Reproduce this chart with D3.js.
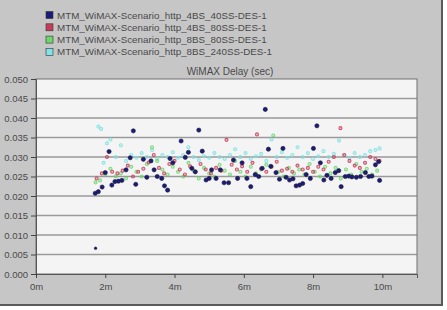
<!DOCTYPE html>
<html>
<head>
<meta charset="utf-8">
<script src="https://cdn.jsdelivr.net/npm/d3@7"></script>
<style>
body{margin:0;background:#fff;}
text{font-family:"Liberation Sans",Arial,sans-serif;}
</style>
</head>
<body>
<script>
var seriesNames = ['MTM_WiMAX-Scenario_http_4BS_40SS-DES-1','MTM_WiMAX-Scenario_http_4BS_80SS-DES-1','MTM_WiMAX-Scenario_http_8BS_80SS-DES-1','MTM_WiMAX-Scenario_http_8BS_240SS-DES-1'];
var seriesColors = ['#1c1c78','#c83c5a','#6cd86c','#7ee4e4'];
var yTicks = [0,0.005,0.010,0.015,0.020,0.025,0.030,0.035,0.040,0.045,0.050];
var xTicks = [0,2,4,6,8,10];

// [minutes, delay sec]
var s4bs40 = [[1.72,0.0066],[1.71,0.0207],[1.80,0.0211],[1.91,0.0223],[2.0,0.0260],[2.11,0.0314],[2.19,0.0228],[2.28,0.0237],[2.38,0.0238],[2.48,0.0240],[2.6,0.0267],[2.72,0.0298],[2.81,0.0367],[2.88,0.0230],[3.1,0.0294],[3.2,0.0248],[3.32,0.0290],[3.41,0.0267],[3.5,0.0250],[3.63,0.0245],[3.71,0.0226],[3.8,0.0215],[3.87,0.0296],[3.95,0.0285],[4.19,0.0341],[4.31,0.0299],[4.4,0.0312],[4.5,0.0271],[4.6,0.0262],[4.7,0.0369],[4.8,0.0315],[4.91,0.0241],[5.0,0.0245],[5.07,0.0267],[5.2,0.0245],[5.32,0.0267],[5.43,0.0234],[5.56,0.0234],[5.7,0.0292],[5.82,0.0245],[5.95,0.0285],[6.09,0.0245],[6.2,0.0224],[6.33,0.0255],[6.43,0.0250],[6.53,0.0271],[6.62,0.0422],[6.71,0.0320],[6.78,0.0276],[6.93,0.0260],[7.03,0.0243],[7.13,0.0322],[7.22,0.0248],[7.32,0.0241],[7.42,0.0244],[7.51,0.0226],[7.61,0.0228],[7.7,0.0232],[7.8,0.0255],[7.92,0.0245],[8.01,0.0322],[8.11,0.0380],[8.21,0.0285],[8.31,0.0241],[8.4,0.0253],[8.52,0.0245],[8.64,0.0260],[8.74,0.0265],[8.81,0.0224],[8.93,0.0250],[9.03,0.0251],[9.12,0.0249],[9.25,0.0248],[9.37,0.0250],[9.51,0.0260],[9.61,0.0250],[9.7,0.0251],[9.8,0.0280],[9.89,0.0288],[9.92,0.0240]];
var s4bs80 = [[1.75,0.0245],[1.9,0.0258],[2.05,0.0300],[2.2,0.0262],[2.35,0.0258],[2.5,0.0265],[2.65,0.0278],[2.8,0.0250],[2.95,0.0262],[3.1,0.0270],[3.25,0.0286],[3.4,0.0305],[3.55,0.0272],[3.7,0.0258],[3.85,0.0282],[4.0,0.0290],[4.15,0.0268],[4.3,0.0255],[4.45,0.0276],[4.6,0.0262],[4.75,0.0282],[4.9,0.0268],[5.05,0.0258],[5.2,0.0272],[5.35,0.0265],[5.5,0.0344],[5.65,0.0280],[5.8,0.0268],[5.95,0.0276],[6.1,0.0262],[6.25,0.0285],[6.38,0.0358],[6.5,0.0270],[6.65,0.0262],[6.8,0.0275],[6.95,0.0288],[7.1,0.0265],[7.25,0.0270],[7.4,0.0262],[7.55,0.0278],[7.7,0.0268],[7.85,0.0272],[8.0,0.0262],[8.15,0.0275],[8.3,0.0268],[8.45,0.0288],[8.6,0.0300],[8.79,0.0374],[8.9,0.0305],[9.05,0.0290],[9.2,0.0278],[9.35,0.0272],[9.5,0.0285],[9.65,0.0300],[9.8,0.0295],[9.92,0.0290]];
var s8bs80 = [[1.72,0.0235],[1.85,0.0240],[2.0,0.0255],[2.15,0.0270],[2.3,0.0250],[2.45,0.0258],[2.6,0.0245],[2.75,0.0275],[2.9,0.0262],[3.05,0.0250],[3.2,0.0282],[3.35,0.0325],[3.5,0.0290],[3.65,0.0268],[3.8,0.0255],[3.95,0.0275],[4.1,0.0262],[4.25,0.0250],[4.4,0.0285],[4.55,0.0265],[4.7,0.0245],[4.85,0.0272],[5.0,0.0258],[5.15,0.0250],[5.3,0.0280],[5.45,0.0265],[5.6,0.0255],[5.75,0.0290],[5.9,0.0262],[6.05,0.0250],[6.2,0.0275],[6.35,0.0258],[6.5,0.0268],[6.65,0.0280],[6.85,0.0355],[7.0,0.0262],[7.15,0.0250],[7.3,0.0272],[7.45,0.0258],[7.6,0.0268],[7.75,0.0255],[7.9,0.0282],[8.05,0.0262],[8.2,0.0250],[8.35,0.0275],[8.5,0.0258],[8.65,0.0272],[8.8,0.0245],[8.95,0.0268],[9.1,0.0255],[9.25,0.0282],[9.4,0.0262],[9.55,0.0270],[9.7,0.0255],[9.85,0.0265]];
var s8bs240 = [[1.8,0.0378],[1.88,0.0372],[1.95,0.0285],[2.05,0.0335],[2.15,0.0345],[2.3,0.0300],[2.45,0.0330],[2.6,0.0290],[2.75,0.0305],[2.9,0.0298],[3.05,0.0310],[3.2,0.0300],[3.35,0.0318],[3.5,0.0295],[3.65,0.0305],[3.8,0.0300],[3.95,0.0312],[4.1,0.0298],[4.25,0.0305],[4.4,0.0325],[4.55,0.0300],[4.7,0.0292],[4.85,0.0302],[5.0,0.0298],[5.15,0.0310],[5.3,0.0300],[5.45,0.0295],[5.6,0.0305],[5.75,0.0320],[5.9,0.0300],[6.05,0.0310],[6.2,0.0295],[6.35,0.0302],[6.5,0.0308],[6.65,0.0290],[6.8,0.0345],[6.95,0.0300],[7.1,0.0312],[7.25,0.0298],[7.4,0.0305],[7.55,0.0325],[7.7,0.0300],[7.85,0.0310],[8.0,0.0295],[8.15,0.0302],[8.3,0.0315],[8.45,0.0300],[8.6,0.0308],[8.75,0.0342],[8.9,0.0305],[9.05,0.0298],[9.2,0.0310],[9.35,0.0300],[9.5,0.0305],[9.65,0.0315],[9.8,0.0318],[9.92,0.0322]];

var W = 447, H = 310;
var pL = 36, pR = 417, pT = 79, pB = 274;

var svg = d3.select('body').append('svg')
	.attr('width',W)
	.attr('height',H);

// grey window frame
svg.append('rect').attr('x',0).attr('y',0).attr('width',442).attr('height',305).attr('fill','#c6c6c6');
svg.append('line').attr('x1',442).attr('x2',442).attr('y1',0).attr('y2',306).attr('stroke','#5a5a5a').attr('stroke-width',2);
svg.append('line').attr('x1',0).attr('x2',443).attr('y1',305).attr('y2',305).attr('stroke','#5a5a5a').attr('stroke-width',2);

var x = d3.scaleLinear().domain([0,11]).range([pL,pR]);
var y = d3.scaleLinear().domain([0,0.05]).range([pB,pT]);

svg.append('rect')
	.attr('x',pL).attr('y',pT)
	.attr('width',pR-pL).attr('height',pB-pT)
	.attr('fill','#f4f4f4');

// gridlines
svg.append('g').selectAll('line')
	.data(yTicks.slice(1,-1))
	.enter()
	.append('line')
	.attr('x1',pL).attr('x2',pR)
	.attr('y1',d=>y(d)).attr('y2',d=>y(d))
	.attr('stroke','#9a9a9a')
	.attr('stroke-width',1.6);

svg.append('rect')
	.attr('x',pL).attr('y',pT)
	.attr('width',pR-pL).attr('height',pB-pT)
	.attr('fill','none')
	.attr('stroke','#707070');

var yAxis = svg.append('g')
	.attr('transform','translate('+pL+',0)')
	.call(d3.axisLeft(y).tickValues(yTicks).tickFormat(d3.format('.3f')).tickSize(5).tickPadding(3));
var xAxis = svg.append('g')
	.attr('transform','translate(0,'+pB+')')
	.call(d3.axisBottom(x).tickValues(xTicks).tickFormat(d=>d+'m').tickSize(4).tickPadding(5));
[yAxis,xAxis].forEach(function(a){
	a.select('.domain').attr('stroke','#555');
	a.selectAll('.tick line').attr('stroke','#444');
	a.selectAll('text').attr('fill','#4a4a4a').style('font-size','9.5px');
});

svg.append('text')
	.attr('x',230).attr('y',75)
	.attr('text-anchor','middle')
	.attr('fill','#4a4a4a')
	.style('font-size','10px')
	.text('WiMAX Delay (sec)');

// legend
var legend = svg.append('g').selectAll('g')
	.data(seriesNames)
	.enter()
	.append('g')
	.attr('transform',(d,i)=>'translate(46,'+(15+i*12.3)+')');
legend.append('rect')
	.attr('x',0).attr('y',-3.5).attr('width',7).attr('height',7)
	.attr('fill',(d,i)=>seriesColors[i])
	.attr('stroke','#333').attr('stroke-width',0.6);
legend.append('text')
	.attr('x',11).attr('y',3.5)
	.attr('fill','#4a4a4a')
	.style('font-size','9.8px')
	.text(d=>d);

// points, drawn back to front
var all = [s8bs240,s8bs80,s4bs80];
var cols = [seriesColors[3],seriesColors[2],seriesColors[1]];
all.forEach(function(s,k){
	svg.append('g').selectAll('circle')
		.data(s)
		.enter()
		.append('circle')
		.attr('cx',d=>x(d[0]))
		.attr('cy',d=>y(d[1]))
		.attr('r',1.5)
		.attr('fill',cols[k])
		.attr('fill-opacity',0.35)
		.attr('stroke',cols[k])
		.attr('stroke-width',1.1)
		.style('opacity',0.85);
});
svg.append('g').selectAll('circle')
	.data(s4bs40)
	.enter()
	.append('circle')
	.attr('cx',d=>x(d[0]))
	.attr('cy',d=>y(d[1]))
	.attr('r',d=>d[1]<0.01?1.3:2.1)
	.attr('fill',seriesColors[0])
	.attr('stroke','#1a1a3a')
	.attr('stroke-width',0.6);
</script>
</body>
</html>
